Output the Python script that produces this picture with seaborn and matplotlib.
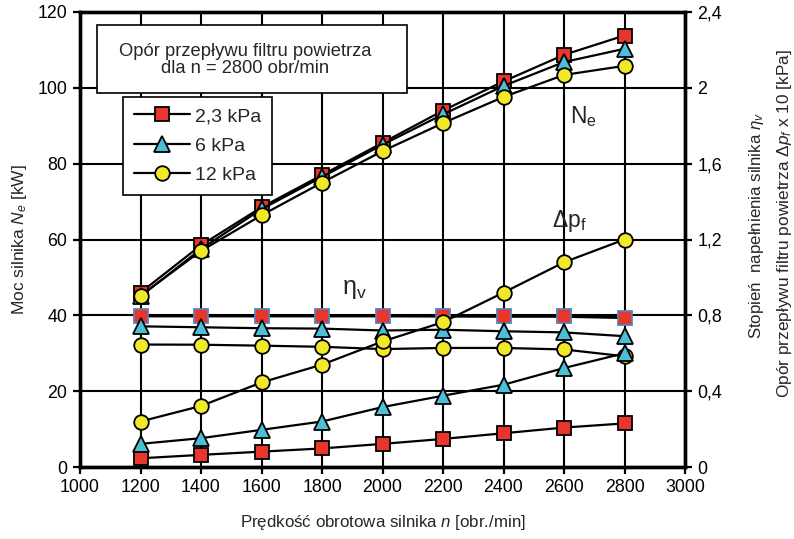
import matplotlib
matplotlib.use("Agg")
import matplotlib.pyplot as plt
import seaborn as sns
import numpy as np
from matplotlib.patches import Rectangle

# ---- data ----
n_rpm = [1200, 1400, 1600, 1800, 2000, 2200, 2400, 2600, 2800]
series_labels = ["2,3 kPa", "6 kPa", "12 kPa"]

# engine power Ne [kW] (left axis)
ne_23 = [46.0, 58.5, 68.5, 77.0, 85.5, 94.0, 101.7, 108.7, 113.8]
ne_6 = [45.0, 57.5, 68.0, 76.5, 85.0, 93.0, 100.5, 106.8, 110.3]
ne_12 = [45.2, 57.0, 66.4, 75.0, 83.3, 90.7, 97.6, 103.4, 105.8]

# volumetric efficiency eta_v (right axis)
eta_23 = [0.797, 0.797, 0.797, 0.797, 0.797, 0.796, 0.795, 0.795, 0.788]
eta_6 = [0.742, 0.737, 0.732, 0.730, 0.720, 0.724, 0.716, 0.710, 0.690]
eta_12 = [0.646, 0.645, 0.640, 0.634, 0.622, 0.628, 0.628, 0.620, 0.584]

# filter pressure drop dp_f x 10 [kPa] (right axis)
dp_23 = [0.046, 0.064, 0.081, 0.098, 0.122, 0.148, 0.178, 0.208, 0.230]
dp_6 = [0.122, 0.152, 0.196, 0.240, 0.316, 0.376, 0.434, 0.522, 0.600]
dp_12 = [0.240, 0.322, 0.446, 0.540, 0.662, 0.764, 0.920, 1.080, 1.200]

x_ticks = [1000, 1200, 1400, 1600, 1800, 2000, 2200, 2400, 2600, 2800, 3000]
left_ticks = [0, 20, 40, 60, 80, 100, 120]
right_ticks = [0, 0.4, 0.8, 1.2, 1.6, 2.0, 2.4]
right_ticklabels = ["0", "0,4", "0,8", "1,2", "1,6", "2", "2,4"]

# ---- style ----
sns.set_style("ticks")
plt.rcParams["font.family"] = ["Liberation Sans", "DejaVu Sans"]
plt.rcParams["mathtext.fontset"] = "custom"
plt.rcParams["mathtext.rm"] = "Liberation Sans"
plt.rcParams["mathtext.it"] = "Liberation Sans:italic"

RED = "#e8362c"
CYAN = "#4cbfd6"
YEL = "#f1e82a"
BLUEEDGE = "#5a80b8"

fig = plt.figure(figsize=(7.94, 5.39), dpi=100)
fig.subplots_adjust(left=80 / 794, right=685 / 794, top=1 - 12 / 539, bottom=1 - 467 / 539)
ax = fig.add_subplot(111)
ax2 = ax.twinx()

ax.set_xlim(1000, 3000)
ax.set_ylim(0, 120)
ax2.set_ylim(0, 2.4)

ax.set_xticks(x_ticks)
ax.set_yticks(left_ticks)
ax2.set_yticks(right_ticks)
ax2.set_yticklabels(right_ticklabels)

ax.grid(True, color="black", linewidth=1.5)
ax.set_axisbelow(True)
for a in (ax, ax2):
    for sp in a.spines.values():
        sp.set_linewidth(2.4)
        sp.set_color("black")

ax.tick_params(axis="both", labelsize=12.8, width=1.6, length=5, direction="out", colors="black", pad=4)
ax2.tick_params(axis="y", labelsize=12.8, width=1.6, length=5, direction="out", colors="black", pad=4)

lw = 1.6
mk = dict(markeredgecolor="black", markeredgewidth=1.3)

# Ne curves
sns.lineplot(x=n_rpm, y=ne_23, ax=ax, color="black", lw=lw, marker="s", markersize=10,
             markerfacecolor=RED, label=series_labels[0], **mk)
sns.lineplot(x=n_rpm, y=ne_6, ax=ax, color="black", lw=lw, marker="^", markersize=11,
             markerfacecolor=CYAN, label=series_labels[1], **mk)
sns.lineplot(x=n_rpm, y=ne_12, ax=ax, color="black", lw=lw, marker="o", markersize=10.5,
             markerfacecolor=YEL, label=series_labels[2], **mk)

# eta_v curves
sns.lineplot(x=n_rpm, y=eta_23, ax=ax2, color="black", lw=2.2, marker="s", markersize=10,
             markerfacecolor=RED, markeredgecolor=BLUEEDGE, markeredgewidth=1.3, legend=False)
sns.lineplot(x=n_rpm, y=eta_6, ax=ax2, color="black", lw=lw, marker="^", markersize=11,
             markerfacecolor=CYAN, legend=False, **mk)
sns.lineplot(x=n_rpm, y=eta_12, ax=ax2, color="black", lw=lw, marker="o", markersize=10.5,
             markerfacecolor=YEL, legend=False, **mk)

# dp_f curves
sns.lineplot(x=n_rpm, y=dp_23, ax=ax2, color="black", lw=lw, marker="s", markersize=10,
             markerfacecolor=RED, legend=False, **mk)
sns.lineplot(x=n_rpm, y=dp_6, ax=ax2, color="black", lw=lw, marker="^", markersize=11,
             markerfacecolor=CYAN, legend=False, **mk)
sns.lineplot(x=n_rpm, y=dp_12, ax=ax2, color="black", lw=lw, marker="o", markersize=10.5,
             markerfacecolor=YEL, legend=False, **mk)

# legend on ax2 so it sits above everything
handles, labels = ax.get_legend_handles_labels()
if ax.get_legend() is not None:
    ax.get_legend().remove()
leg = ax2.legend(handles, labels, loc="upper left", bbox_to_anchor=((123 - 80) / 605, 1 - (97 - 12) / 455),
                 frameon=True, fancybox=False, edgecolor="black", framealpha=1, fontsize=14,
                 handlelength=2.9, borderpad=0.55, labelspacing=0.6, handletextpad=0.25,
                 borderaxespad=0)
leg.get_frame().set_linewidth(1.2)

# title box
box = Rectangle(((97 - 80) / 605, 1 - (93 - 12) / 455), (407 - 97) / 605, (93 - 25) / 455,
                transform=ax2.transAxes, facecolor="white", edgecolor="black", lw=1.2, zorder=5)
ax2.add_patch(box)
ax2.text(((97 + 407) / 2 - 80) / 605 - 0.012, 1 - (60 - 12) / 455,
         "Opór przepływu filtru powietrza\ndla n = 2800 obr/min",
         transform=ax2.transAxes, ha="center", va="center", fontsize=13.2, zorder=6, linespacing=1.05)

# curve annotations
ax.text(2665, 92.5, r"N$_\mathregular{e}$", fontsize=16.5, ha="center", va="center", zorder=7)
ax.text(2617, 65, r"$\mathregular{\Delta p_f}$", fontsize=16.5, ha="center", va="center", zorder=7)
ax.text(1907, 47, "η$_\\mathregular{v}$", fontsize=18, ha="center", va="center", zorder=7)

# axis labels
ax.set_xlabel(r"Prędkość obrotowa silnika $\it{n}$ [obr./min]", fontsize=12.2, labelpad=12)
ax.set_ylabel(r"Moc silnika $\it{N_e}$ [kW]", fontsize=12.5, labelpad=6)
fig.text(756 / 794, 1 - 225 / 539, r"Stopień  napełnienia silnika $\it{\eta_v}$",
         rotation=90, ha="center", va="center", fontsize=12.2)
fig.text(785 / 794, 1 - 224 / 539, r"Opór przepływu filtru powietrza $\it{\Delta p_f}$ x 10 [kPa]",
         rotation=90, ha="center", va="center", fontsize=12.4)

fig.savefig("out.png", dpi=100)
